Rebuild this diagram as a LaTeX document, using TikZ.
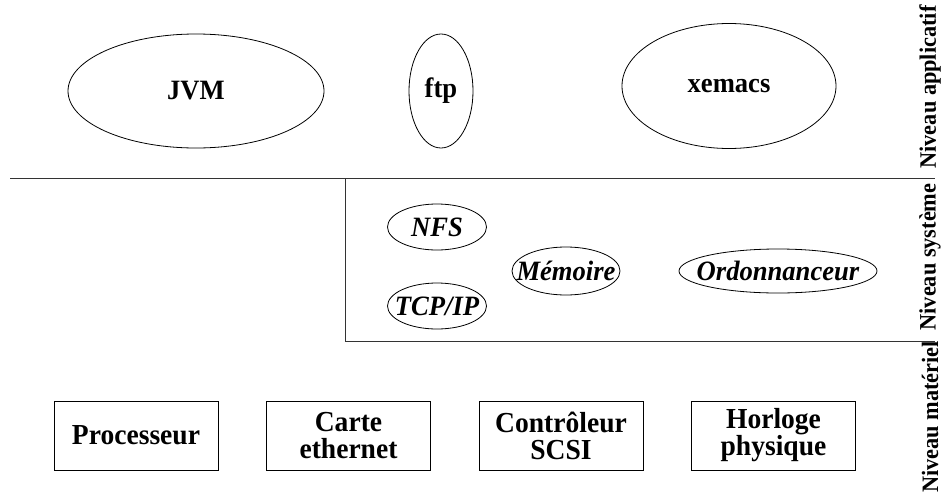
\documentclass[tikz,border=0pt]{standalone}
\usepackage{fontspec}
\setmainfont[FakeStretch=0.95]{Liberation Serif}
\usetikzlibrary{shapes.geometric}
% label text that does not widen the shape around it
\newcommand\flatlabel[1]{\makebox[0pt]{#1}}
\begin{document}
\begin{tikzpicture}[x=1pt,y=-1pt,
  every node/.style={font=\bfseries\fontsize{28}{27}\selectfont},
  proc/.style={draw,ellipse,inner sep=0pt,line width=0.8pt},
  sysproc/.style={proc,font=\bfseries\itshape\fontsize{28}{27}\selectfont},
  hw/.style={draw,rectangle,inner sep=0pt,line width=0.8pt,minimum width=164pt,minimum height=69pt,align=center,font=\bfseries\fontsize{29}{27}\selectfont},
  level/.style={rotate=90,inner sep=0pt,font=\bfseries\fontsize{23.5}{26}\selectfont},
  sep/.style={line width=0.9pt,draw=black!80}]
\useasboundingbox (0,0) rectangle (946,493);

% application level
\node[proc,minimum width=256pt,minimum height=114pt] (jvm) at (196,91) {\flatlabel{JVM}};
\node[proc,minimum width=64pt,minimum height=114pt] (ftp) at (441,91) {\flatlabel{ftp}};
\node[proc,minimum width=214pt,minimum height=125pt] (xemacs) at (729,86) {\flatlabel{xemacs}};

% separators
\coordinate (l1) at (10,178);
\coordinate (r1) at (935,178);
\coordinate (k1) at (345,178);
\coordinate (k2) at (345,341);
\coordinate (r2) at (935,341);
\draw[sep] (l1) -- (r1);
\draw[sep] (k1) -- (k2) -- (r2);

% system level
\node[sysproc,minimum width=99pt,minimum height=46pt] (nfs) at (437,227) {\flatlabel{NFS}};
\node[sysproc,minimum width=99pt,minimum height=46pt] (tcp) at (437,306) {\flatlabel{TCP/IP}};
\node[sysproc,minimum width=108pt,minimum height=48pt] (mem) at (566,271) {\flatlabel{Mémoire}};
\node[sysproc,minimum width=198pt,minimum height=44pt] (ord) at (778,271) {\flatlabel{Ordonnanceur}};

% hardware level
\node[hw] (cpu) at (136,435.5) {Processeur};
\node[hw] (eth) at (348.5,435.5) {Carte\\ethernet};
\node[hw] (scsi) at (561,435.5) {Contrôleur\\SCSI};
\node[hw] (clk) at (773.5,435.5) {Horloge\\physique};

% level names
\node[level] (na) at (930,87) {Niveau applicatif};
\node[level] (ns) at (930,257) {Niveau système};
\node[level] (nm) at (930,417) {Niveau matériel};
\end{tikzpicture}
\end{document}
